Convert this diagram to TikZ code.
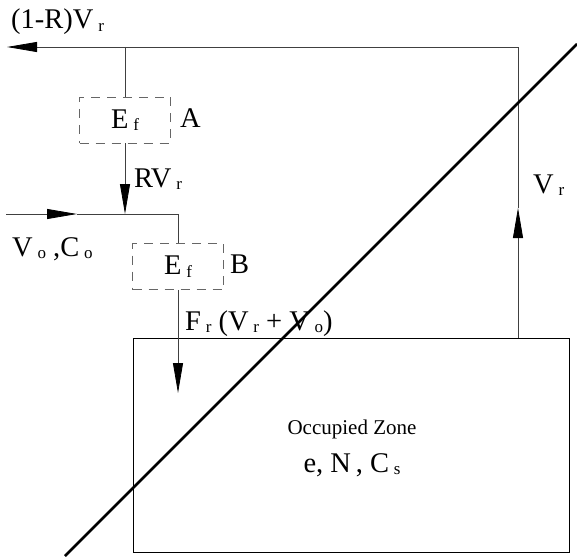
\documentclass[tikz,border=0pt]{standalone}
\usepackage{fontspec}
\setmainfont{Liberation Serif}
\usetikzlibrary{arrows.meta}
\newcommand{\lo}[1]{\,\raisebox{-.2ex}{\fontsize{17}{17}\selectfont #1}}

\begin{document}
\begin{tikzpicture}[x=1pt,y=-1pt,>={Triangle[length=30pt,width=10pt,color=black]},
  every node/.style={font=\fontsize{28.5}{32}\selectfont,inner sep=0pt},
  flow/.style={line width=.8pt,draw=black!75},
  filter/.style={draw=black!60,line width=.8pt,dash pattern=on 9pt off 7pt,minimum width=91pt,minimum height=46pt}]
\useasboundingbox (0,0) rectangle (577,556);
% occupied zone and the two filters
\node[draw,line width=.8pt,minimum width=436pt,minimum height=214pt,anchor=north west] (zone) at (133,338) {};
\node[filter] (fa) at (125,120) {E\lo{f}};
\node[filter] (fb) at (178,266.5) {E\lo{f}};
\coordinate (tl) at (7,47);
\coordinate (ja) at (125,47);
\coordinate (cr) at (518,47);
\coordinate (zr) at (518,338);
\coordinate (vr) at (518,208);
\coordinate (jb) at (125,214);
\coordinate (vo) at (6,214);
\coordinate (vt) at (77,214);
\coordinate (bc) at (178,214);
\coordinate (ft) at (178,393);
% flows
\draw[flow,->] (zr)--(vr);
\draw[flow] (vr)--(cr);
\draw[flow,->] (cr)--(tl);
\draw[flow] (ja)--(fa);
\draw[flow,->] (fa)--(jb);
\draw[flow,->] (vo)--(vt);
\draw[flow] (vt)--(bc)--(fb);
\draw[flow,->] (fb)--(ft);
% diagonal
\draw[line width=2.6pt] (65,556)--(577,44);
% labels
\node[anchor=base west] (lout) at (11,29) {(1-R)V\lo{r}};
\node[anchor=base west] (lvr) at (533,193) {V\lo{r}};
\node[anchor=base west] (lrv) at (134,187) {RV\lo{r}};
\node[anchor=base west] (lvo) at (12,256) {V\lo{o} ,C\lo{o}};
\node[anchor=base west] (la) at (180,128) {A};
\node[anchor=base west] (lb) at (230,273) {B};
\node[anchor=base west] (lfr) at (185,330) {F\lo{r} (V\lo{r} + V\lo{o})};
\node[anchor=base,font=\fontsize{21}{24}\selectfont] (loz) at (352,434) {Occupied Zone};
\node[anchor=base] (lenc) at (352,472) {e, N\,, C\lo{s}};
\end{tikzpicture}
\end{document}
